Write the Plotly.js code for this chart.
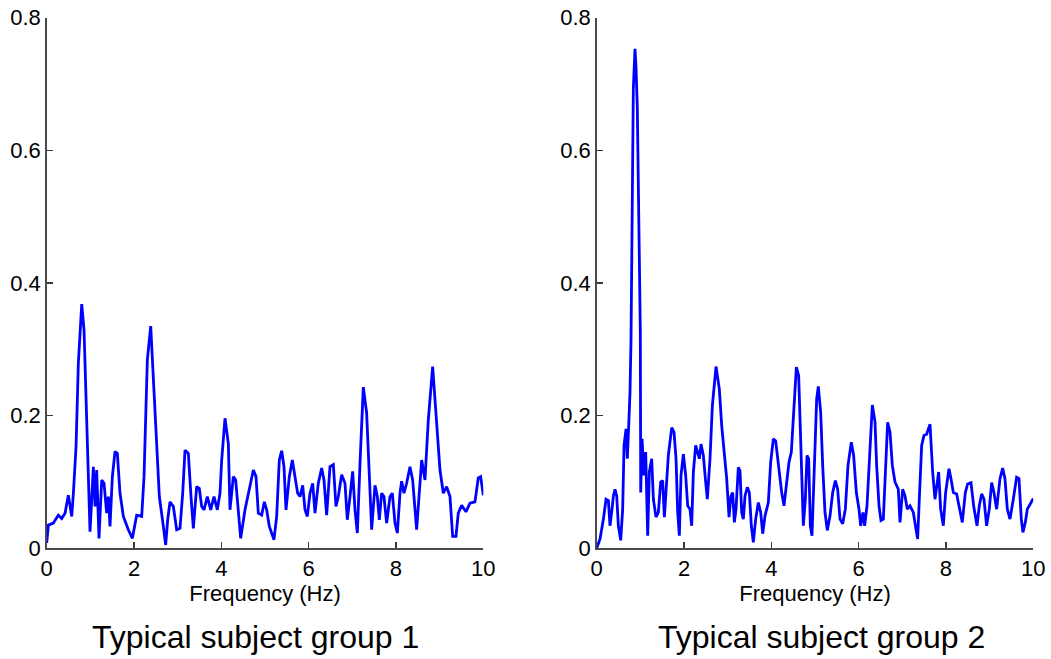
<!DOCTYPE html>
<html>
<head>
<meta charset="utf-8">
<script src="https://cdn.plot.ly/plotly-3.0.1.min.js"></script>
<style>
  html, body { margin: 0; padding: 0; background: #ffffff; }
  #chart { width: 1051px; height: 659px; }
</style>
</head>
<body>
<div id="chart"></div>
<script>
// Amplitude spectra of two typical subjects, 0-10 Hz
const freqGroup1 = [0.000,0.038,0.153,0.267,0.344,0.420,0.496,0.573,0.611,0.672,0.725,0.802,0.855,0.916,0.954,0.992,1.069,1.107,1.145,1.198,1.260,1.313,1.374,1.412,1.450,1.504,1.565,1.618,1.679,1.756,1.870,1.962,2.061,2.176,2.229,2.305,2.382,2.481,2.580,2.672,2.725,2.771,2.824,2.901,2.977,3.053,3.115,3.168,3.244,3.305,3.359,3.435,3.496,3.550,3.603,3.679,3.756,3.832,3.908,3.969,4.008,4.084,4.160,4.198,4.275,4.328,4.389,4.443,4.542,4.618,4.733,4.794,4.847,4.924,4.985,5.038,5.099,5.206,5.267,5.328,5.382,5.435,5.481,5.557,5.626,5.687,5.748,5.802,5.863,5.916,5.969,6.031,6.092,6.145,6.221,6.298,6.351,6.412,6.489,6.565,6.626,6.679,6.756,6.832,6.885,6.947,7.008,7.061,7.115,7.176,7.252,7.328,7.405,7.443,7.519,7.573,7.618,7.672,7.725,7.786,7.863,7.916,7.977,8.031,8.092,8.130,8.183,8.244,8.321,8.382,8.473,8.527,8.588,8.664,8.740,8.840,8.931,9.008,9.084,9.160,9.237,9.298,9.374,9.427,9.504,9.603,9.695,9.809,9.885,9.939,10.000];
const ampGroup1 = [0.008,0.035,0.038,0.050,0.045,0.053,0.080,0.048,0.083,0.153,0.279,0.368,0.329,0.178,0.098,0.025,0.123,0.063,0.118,0.015,0.103,0.098,0.053,0.078,0.033,0.108,0.146,0.143,0.083,0.048,0.028,0.015,0.050,0.048,0.108,0.284,0.335,0.204,0.078,0.033,0.005,0.043,0.070,0.063,0.028,0.030,0.083,0.148,0.143,0.078,0.030,0.093,0.090,0.063,0.058,0.078,0.058,0.078,0.058,0.083,0.133,0.196,0.158,0.058,0.108,0.103,0.058,0.015,0.058,0.083,0.118,0.108,0.053,0.050,0.070,0.058,0.033,0.013,0.048,0.133,0.147,0.123,0.058,0.108,0.133,0.108,0.083,0.078,0.095,0.058,0.048,0.083,0.098,0.053,0.098,0.121,0.103,0.050,0.123,0.126,0.063,0.078,0.111,0.098,0.043,0.078,0.116,0.058,0.023,0.128,0.243,0.204,0.088,0.028,0.095,0.078,0.043,0.083,0.078,0.038,0.078,0.083,0.038,0.023,0.083,0.101,0.083,0.098,0.123,0.103,0.028,0.083,0.133,0.103,0.193,0.274,0.193,0.118,0.083,0.093,0.078,0.018,0.018,0.053,0.065,0.055,0.068,0.070,0.106,0.108,0.080];

const freqGroup2 = [0.000,0.076,0.153,0.214,0.267,0.305,0.351,0.382,0.420,0.458,0.496,0.550,0.595,0.626,0.672,0.702,0.733,0.763,0.786,0.816,0.839,0.877,0.900,0.930,0.969,0.999,1.008,1.038,1.084,1.122,1.168,1.206,1.260,1.298,1.359,1.412,1.466,1.511,1.550,1.588,1.641,1.718,1.771,1.817,1.855,1.893,1.931,1.985,2.038,2.084,2.137,2.176,2.214,2.267,2.313,2.351,2.389,2.443,2.489,2.534,2.595,2.649,2.733,2.809,2.863,2.916,2.977,3.031,3.076,3.115,3.153,3.191,3.244,3.282,3.321,3.359,3.397,3.450,3.496,3.542,3.588,3.641,3.702,3.756,3.802,3.855,3.931,3.985,4.046,4.099,4.160,4.237,4.290,4.344,4.405,4.458,4.519,4.573,4.626,4.664,4.702,4.733,4.779,4.817,4.855,4.893,4.931,4.985,5.038,5.076,5.130,5.176,5.229,5.282,5.344,5.405,5.466,5.519,5.573,5.634,5.695,5.756,5.832,5.885,5.947,6.008,6.046,6.099,6.137,6.191,6.237,6.275,6.313,6.374,6.412,6.466,6.511,6.565,6.618,6.664,6.718,6.771,6.832,6.908,6.947,7.008,7.061,7.115,7.176,7.252,7.313,7.351,7.389,7.443,7.496,7.557,7.634,7.695,7.748,7.786,7.832,7.878,7.939,7.992,8.069,8.115,8.168,8.244,8.305,8.374,8.443,8.496,8.573,8.634,8.710,8.763,8.817,8.870,8.931,8.992,9.046,9.099,9.160,9.237,9.298,9.351,9.405,9.466,9.542,9.618,9.672,9.725,9.763,9.817,9.863,9.924,10.000];
const ampGroup2 = [0.000,0.014,0.044,0.074,0.072,0.034,0.059,0.079,0.089,0.079,0.034,0.012,0.059,0.155,0.180,0.135,0.185,0.235,0.315,0.592,0.692,0.753,0.726,0.665,0.507,0.326,0.084,0.165,0.110,0.145,0.019,0.115,0.135,0.074,0.047,0.054,0.100,0.102,0.047,0.089,0.140,0.182,0.175,0.135,0.054,0.019,0.110,0.142,0.110,0.064,0.059,0.034,0.115,0.155,0.145,0.135,0.157,0.140,0.105,0.074,0.135,0.215,0.274,0.240,0.185,0.145,0.105,0.047,0.079,0.084,0.039,0.059,0.122,0.117,0.054,0.044,0.079,0.092,0.084,0.034,0.009,0.044,0.069,0.054,0.022,0.049,0.069,0.130,0.165,0.162,0.125,0.084,0.064,0.100,0.130,0.145,0.215,0.273,0.260,0.165,0.094,0.034,0.074,0.140,0.135,0.034,0.019,0.125,0.225,0.244,0.205,0.125,0.054,0.027,0.049,0.084,0.102,0.089,0.044,0.037,0.059,0.125,0.160,0.140,0.084,0.059,0.034,0.054,0.034,0.064,0.125,0.180,0.216,0.191,0.125,0.064,0.042,0.044,0.135,0.190,0.175,0.125,0.100,0.089,0.039,0.089,0.079,0.059,0.064,0.054,0.029,0.014,0.074,0.155,0.170,0.172,0.187,0.115,0.074,0.094,0.115,0.059,0.034,0.084,0.120,0.105,0.084,0.082,0.059,0.039,0.084,0.097,0.099,0.064,0.034,0.064,0.082,0.074,0.034,0.059,0.099,0.084,0.059,0.105,0.121,0.105,0.059,0.044,0.074,0.107,0.105,0.044,0.024,0.039,0.059,0.067,0.075];

const xTicks = [0, 2, 4, 6, 8, 10];
const yTicks = [0, 0.2, 0.4, 0.6, 0.8];
const xLabel = 'Frequency (Hz)';
const panelTitles = ['Typical subject group 1', 'Typical subject group 2'];

const fontFamily = 'Liberation Sans, Arial, sans-serif';
const lineStyle = { color: '#0000ff', width: 2.8 };
const tickFont = { family: fontFamily, size: 22, color: '#000000' };

function xAxis(domain, anchor) {
  return {
    domain: domain, anchor: anchor, range: [0, 10],
    tickmode: 'array', tickvals: xTicks,
    ticks: 'inside', ticklen: 6, tickwidth: 1.2, tickcolor: '#3a3a3a',
    showline: true, linecolor: '#4a4a4a', linewidth: 1.5,
    showgrid: false, zeroline: false, mirror: false,
    tickfont: tickFont,
    title: { text: xLabel, font: { family: fontFamily, size: 22, color: '#000000' }, standoff: 2 },
    fixedrange: true
  };
}
function yAxis(domain, anchor) {
  return {
    domain: domain, anchor: anchor, range: [0, 0.8],
    tickmode: 'array', tickvals: yTicks,
    ticks: 'inside', ticklen: 6, tickwidth: 1.2, tickcolor: '#3a3a3a',
    showline: true, linecolor: '#4a4a4a', linewidth: 1.5,
    showgrid: false, zeroline: false, mirror: false,
    tickfont: tickFont,
    fixedrange: true
  };
}

const W = 1051, H = 659;
const yDom = [(H - 548.3) / H, (H - 17.6) / H];

const data = [
  { x: freqGroup1, y: ampGroup1, type: 'scatter', mode: 'lines', line: lineStyle, xaxis: 'x', yaxis: 'y', hoverinfo: 'skip', cliponaxis: false },
  { x: freqGroup2, y: ampGroup2, type: 'scatter', mode: 'lines', line: lineStyle, xaxis: 'x2', yaxis: 'y2', hoverinfo: 'skip', cliponaxis: false }
];

const titleFont = { family: fontFamily, size: 32, color: '#000000' };

const layout = {
  width: W, height: H,
  margin: { l: 0, r: 0, t: 0, b: 0 },
  paper_bgcolor: '#ffffff', plot_bgcolor: '#ffffff',
  showlegend: false,
  xaxis: xAxis([46.7 / W, 483.3 / W], 'y'),
  yaxis: yAxis(yDom, 'x'),
  xaxis2: xAxis([596.7 / W, 1033.3 / W], 'y2'),
  yaxis2: yAxis(yDom, 'x2'),
  annotations: [
    { text: panelTitles[0], xref: 'paper', yref: 'paper', x: 255 / W, y: (H - 637) / H, xanchor: 'center', yanchor: 'middle', showarrow: false, font: titleFont },
    { text: panelTitles[1], xref: 'paper', yref: 'paper', x: 821 / W, y: (H - 637) / H, xanchor: 'center', yanchor: 'middle', showarrow: false, font: titleFont }
  ]
};

Plotly.newPlot('chart', data, layout, { staticPlot: true, displayModeBar: false });
</script>
</body>
</html>
